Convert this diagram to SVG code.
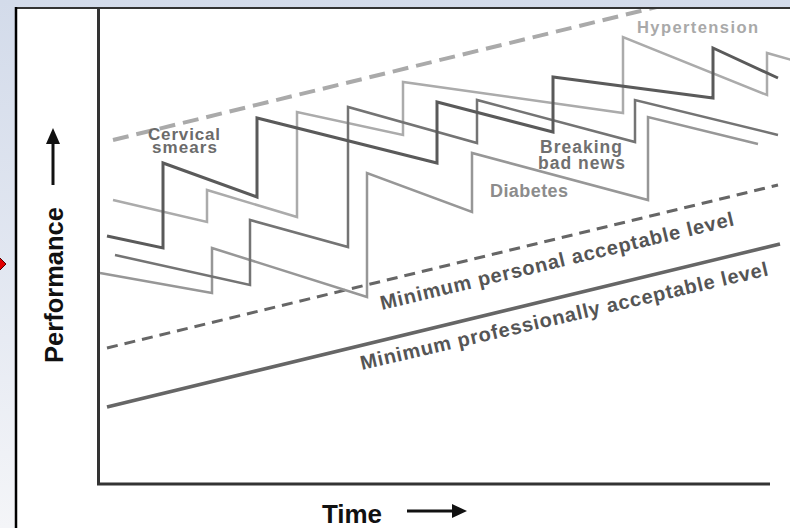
<svg xmlns="http://www.w3.org/2000/svg" width="790" height="528" viewBox="0 0 790 528">
<defs>
  <linearGradient id="bgL" x1="0" y1="0" x2="0" y2="1">
    <stop offset="0" stop-color="#d3dbea"/>
    <stop offset="0.5" stop-color="#e2e7f1"/>
    <stop offset="1" stop-color="#f4f5f8"/>
  </linearGradient>
  <clipPath id="panel"><rect x="17" y="9" width="773" height="519"/></clipPath>
</defs>
<style>
  .t{font-family:"Liberation Sans",Arial,sans-serif;font-weight:bold}
  .ax{stroke:#333;stroke-width:3;fill:none}
  .zig{fill:none;stroke-linejoin:miter;stroke-linecap:butt}
  .slope{font-size:20px;fill:#555}
</style>
<rect width="790" height="528" fill="url(#bgL)"/>
<rect x="16" y="8" width="774" height="520" fill="#ffffff"/>
<line x1="15" y1="8" x2="790" y2="8" stroke="#333" stroke-width="2"/>
<line x1="16" y1="7" x2="16" y2="528" stroke="#000" stroke-width="2.5"/>
<polygon points="-6,264 0,258 6,264 0,270" fill="#e00000" stroke="#500" stroke-width="1"/>

<g id="axes">
  <polyline class="ax" points="98.5,9 98.5,484 770,484"/>
</g>

<g id="connectors" clip-path="url(#panel)">
  <line id="ideal" x1="113" y1="140" x2="665" y2="5" stroke="#aaaaaa" stroke-width="4" stroke-dasharray="16 8"/>
  <line id="personal" x1="107" y1="348" x2="778" y2="185" stroke="#666" stroke-width="3" stroke-dasharray="11 7"/>
  <line id="professional" x1="107" y1="407" x2="780" y2="244" stroke="#666" stroke-width="3.5"/>
  <polyline id="hypertension-line" class="zig" stroke="#ababab" stroke-width="2.5" points="113,200 207,222 207,190 297,217 297,112 403,135 403,82 623,113 623,37 767,95 767,53 792,60"/>
  <polyline id="diabetes-line" class="zig" stroke="#979797" stroke-width="2.5" points="100,273 212,293 212,248 367,297 367,173 472,212 472,153 648,200 648,117 758,144"/>
  <polyline id="badnews-line" class="zig" stroke="#747474" stroke-width="2.5" points="115,255 250,285 250,220 348,247 348,107 477,143 477,100 635,142 635,100 778,135"/>
  <polyline id="cervical-line" class="zig" stroke="#5a5a5a" stroke-width="3" points="107,236 163,248 163,163 257,197 257,118 437,163 437,102 553,132 553,77 713,98 713,48 778,78"/>
</g>

<g id="y-label">
  <line x1="53" y1="185" x2="53" y2="140" stroke="#111" stroke-width="3"/>
  <polygon points="53,128 46,144 60,144" fill="#111"/>
  <text class="t" transform="translate(63,285) rotate(-90)" text-anchor="middle" font-size="25.5" fill="#111" textLength="156" lengthAdjust="spacing">Performance</text>
</g>
<g id="x-label">
  <text class="t" x="322" y="523" font-size="26" fill="#111" textLength="60" lengthAdjust="spacing">Time</text>
  <line x1="407" y1="511" x2="455" y2="511" stroke="#111" stroke-width="3"/>
  <polygon points="467,511 452,504 452,518" fill="#111"/>
</g>

<g id="label-cervical">
  <text class="t" x="148" y="140" font-size="17" fill="#6b6b6b" textLength="72" lengthAdjust="spacing">Cervical</text>
  <text class="t" x="152" y="153" font-size="17" fill="#6b6b6b" textLength="65" lengthAdjust="spacing">smears</text>
</g>
<g id="label-badnews">
  <text class="t" x="540" y="153" font-size="17.5" fill="#707070" textLength="82" lengthAdjust="spacing">Breaking</text>
  <text class="t" x="538" y="169" font-size="17.5" fill="#707070" textLength="87" lengthAdjust="spacing">bad news</text>
</g>
<g id="label-diabetes">
  <text class="t" x="490" y="197" font-size="18" fill="#8c8c8c" textLength="78" lengthAdjust="spacing">Diabetes</text>
</g>
<g id="label-hypertension">
  <text class="t" x="637" y="33" font-size="16.5" fill="#a9a9a9" textLength="121" lengthAdjust="spacing">Hypertension</text>
</g>
<g id="label-personal">
  <text class="t slope" transform="translate(382,310) rotate(-13.5)" textLength="363" lengthAdjust="spacing">Minimum personal acceptable level</text>
</g>
<g id="label-professional">
  <text class="t slope" transform="translate(362,370) rotate(-13.1)" textLength="418" lengthAdjust="spacing">Minimum professionally acceptable level</text>
</g>
</svg>
